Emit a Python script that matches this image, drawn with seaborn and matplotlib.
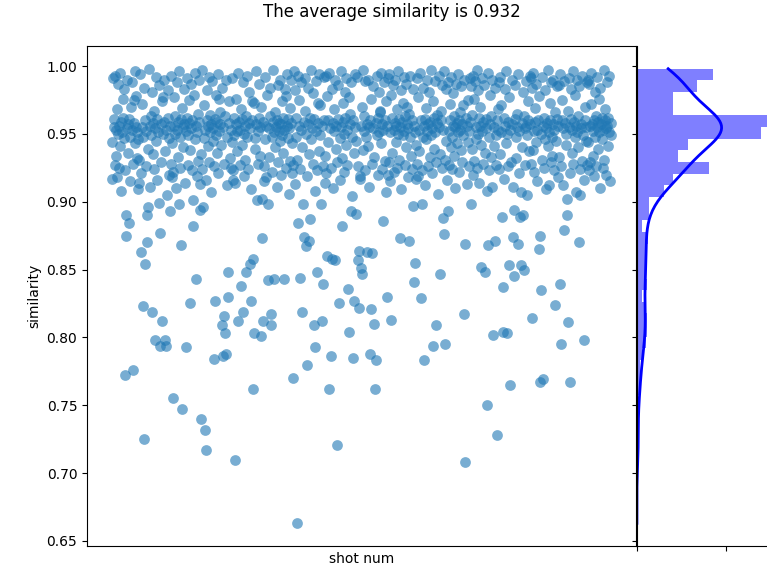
import numpy as np
import matplotlib
matplotlib.use("Agg")
import matplotlib.pyplot as plt
import seaborn as sns

# shots that drop below the main band: shot number and similarity (x1000)
low_shots = [
    24, 26, 27, 33, 39, 54, 59, 60, 62, 66,
    67, 69, 75, 82, 88, 90, 91, 94, 101, 102,
    109, 115, 127, 130, 133, 140, 147, 153, 154, 159,
    167, 169, 172, 175, 178, 192, 194, 208, 209, 212,
    214, 215, 219, 220, 232, 239, 244, 247, 254, 260,
    262, 266, 267, 268, 274, 281, 283, 284, 286, 294,
    295, 300, 301, 306, 325, 343, 349, 352, 355, 359,
    361, 362, 366, 369, 372, 375, 381, 383, 387, 395,
    396, 398, 407, 410, 413, 416, 421, 425, 429, 435,
    446, 448, 452, 455, 457, 462, 465, 466, 467, 470,
    473, 481, 487, 489, 492, 495, 497, 498, 513, 520,
    527, 544, 562, 569, 570, 573, 583, 586, 589, 606,
    612, 620, 626, 628, 629, 634, 665, 667, 668, 678,
    697, 705, 709, 710, 720, 723, 728, 737, 738, 739,
    747, 750, 753, 757, 759, 760, 767, 771, 772, 777,
    779, 794, 807, 808, 809, 811, 814, 837, 847, 849,
    855, 859, 860, 861, 866, 883, 891,
]
low_sim = [
    772, 890, 875, 884, 776, 863, 823, 725, 854, 870,
    890, 896, 819, 798, 899, 794, 877, 812, 798, 794,
    893, 755, 898, 868, 747, 793, 825, 882, 901, 843,
    894, 740, 896, 732, 717, 784, 827, 809, 786, 816,
    803, 788, 848, 830, 710, 812, 838, 819, 848, 854,
    827, 762, 858, 803, 901, 801, 902, 873, 812, 898,
    842, 817, 809, 843, 843, 770, 663, 884, 844, 819,
    898, 874, 867, 780, 871, 887, 809, 793, 848, 898,
    812, 839, 860, 762, 786, 858, 857, 721, 825, 882,
    836, 804, 893, 785, 827, 891, 857, 822, 864, 851,
    847, 863, 788, 821, 862, 810, 762, 783, 886, 830,
    813, 873, 871, 897, 841, 855, 829, 898, 783, 794,
    809, 847, 888, 876, 795, 893, 817, 708, 869, 898,
    852, 848, 750, 868, 802, 871, 728, 889, 804, 837,
    803, 853, 765, 874, 894, 845, 869, 889, 853, 890,
    850, 814, 865, 875, 767, 835, 769, 824, 839, 795,
    879, 902, 890, 811, 767, 870, 798,
]

# all other shots, in order, similarity (x1000)
band_sim = [
    917, 944, 991, 955, 961, 927, 993, 934, 953, 918, 968, 987, 950, 925, 956, 995, 941,
    959, 908, 951, 976, 962, 983, 947, 923, 954, 990, 957, 936, 961, 915, 948, 970, 988,
    953, 928, 975, 958, 996, 943, 955, 978, 932, 951, 909,
    946, 914, 931, 994, 921, 955, 972, 948, 984, 960, 926, 952, 939, 998, 956, 911, 963,
    949, 981, 935, 958, 967, 924, 954, 992, 945, 961, 916, 951, 986, 957, 929, 974, 950,
    977, 990, 959, 937, 953, 905, 962, 982, 947, 920, 956,
    993, 928, 918, 943, 922, 956, 977, 950, 963, 910, 988, 953, 933, 959, 996, 948, 925,
    961, 969, 955, 940, 983, 957, 914, 952, 991, 962, 927, 949, 975, 958, 938, 954, 987,
    923, 960, 979, 995, 946, 956, 919, 951, 965, 930, 959, 990,
    913, 935, 997, 924, 947, 971, 953, 916, 960, 982, 941, 956, 929, 992, 951, 964, 907,
    957, 989, 945, 954, 926, 961, 979, 949, 936, 959, 994, 921, 952, 976, 966, 957, 942,
    984, 955, 928, 963, 990, 948, 912, 958, 974, 932, 953, 925,
    991, 944, 923, 916, 949, 962, 914, 957, 976, 952, 937, 995, 959, 927, 953, 968, 961,
    942, 988, 950, 919, 956, 931, 963, 993, 948, 924, 958, 981, 954, 909, 974, 960, 973,
    947, 939, 957, 996, 952, 928, 962, 987, 955, 934, 970, 959,
    926, 915, 946, 992, 918, 956, 979, 933, 954, 963, 984, 948, 922, 959, 997, 951, 940,
    966, 955, 911, 960, 986, 929, 952, 958, 990, 945, 957, 920, 949, 974, 962, 936, 953,
    983, 925, 978, 956, 994, 947, 961, 906, 954, 969, 930, 958,
    990, 943, 921, 927, 996, 913, 982, 948, 962, 931, 993, 956, 975, 924, 953, 988, 940,
    959, 967, 991, 950, 919, 957, 984, 935, 962, 997, 946, 954, 928, 980, 961, 908, 989,
    952, 923, 973, 958, 994, 937, 949, 971, 956, 926, 992, 960,
    914, 934, 993, 921, 978, 960, 944, 995, 954, 925, 983, 958, 910, 952, 968, 990, 939,
    956, 929, 986, 961, 947, 916, 955, 996, 932, 959, 973, 950, 922, 981, 962, 942, 991,
    953, 927, 977, 957, 965, 988, 948, 904, 960, 936, 994, 955,
    945, 992, 926, 919, 917, 956, 970, 938, 997, 952, 963, 923, 989, 948, 957, 941, 990,
    955, 911, 960, 976, 928, 954, 985, 933, 958, 993, 949, 962, 920, 981, 951, 966, 967,
    943, 995, 957, 924, 953, 988, 930, 960, 907, 974, 956, 991,
    920, 929, 994, 915, 951, 979, 962, 936, 986, 953, 922, 958, 990, 944, 956, 968, 925,
    950, 996, 961, 931, 955, 982, 909, 959, 949, 973, 992, 952, 927, 963, 940, 987, 970,
    957, 918, 954, 965, 993, 948, 934, 960, 924, 983, 956, 951,
    942, 917, 928, 991, 919, 977, 953, 937, 995, 960, 923, 948, 984, 956, 912, 961, 969,
    946, 990, 952, 926, 957, 981, 933, 959, 997, 949, 921, 954, 974, 962, 939, 989, 951,
    929, 958, 964, 906, 993, 955, 935, 967, 960, 925, 986, 953,
    996, 931, 983, 945, 916, 988, 927, 952, 972, 960, 940, 992, 948, 924, 956, 980, 963,
    934, 955, 910, 987, 958, 943, 951, 994, 922, 960, 966, 953, 938, 985, 957, 929, 949,
    971, 990, 962, 913, 956, 975, 944, 952, 926, 991, 959,
    985, 964, 939, 993, 920, 976, 930, 989, 955, 946, 997, 925, 950, 982, 962, 914, 956,
    970, 942, 991, 952, 928, 959, 986, 936, 954, 961, 908, 995, 948, 923, 957, 979, 963,
    933, 911, 990, 955, 941, 984, 949, 927, 960, 968, 953,
    988, 924, 992, 935, 951, 971, 962, 917, 983, 956, 943, 996, 950, 926, 959, 977, 953,
    929, 990, 957, 911, 961, 986, 948, 932, 955, 965, 994, 952, 921, 907, 958, 940, 981,
    963, 927, 954, 989, 956, 905, 949, 974, 960, 937, 993, 957,
    991, 928, 984, 938, 995, 952, 922, 959, 969, 944, 987, 953, 915, 960, 978, 950, 931,
    992, 956, 925, 962, 982, 946, 954, 909, 958, 997, 941, 951, 912, 973, 960, 929, 988,
    948, 934, 957, 990, 923, 953, 966, 945, 985, 961, 918, 956,
    986, 933, 994, 926, 960, 975, 954, 912, 989, 958, 942, 950, 967, 991, 955, 921, 961,
    983, 936, 953, 928, 996, 959, 948, 979, 956, 907, 990, 951, 940, 963, 985, 924, 905,
    957, 954, 930, 993, 949, 916, 960, 970, 955, 945, 988, 927,
    990, 944, 923, 987, 929, 956, 972, 995, 957, 934, 952, 919, 960, 981, 948, 963, 926,
    955, 992, 939, 959, 976, 951, 910, 984, 957, 946, 962, 925, 953, 997, 931, 960, 968,
    954, 920, 956, 988, 941, 962, 993, 951, 915, 958, 949,
]

n_shots = len(low_shots) + len(band_sim)
similarity = np.empty(n_shots)
is_low = np.zeros(n_shots, dtype=bool)
is_low[low_shots] = True
similarity[low_shots] = np.array(low_sim) / 1000
similarity[~is_low] = np.array(band_sim) / 1000
shot_num = np.arange(n_shots)

fig = plt.figure(figsize=(7.67, 5.73), dpi=100)
ax = fig.add_axes([87 / 767, 27 / 573, 549 / 767, 500 / 573])
ax_hist = fig.add_axes([636.7 / 767, 27 / 573, 131 / 767, 500 / 573], sharey=ax)

sns.scatterplot(x=shot_num, y=similarity, ax=ax, s=60, alpha=0.6,
                linewidth=0, color="#1f77b4")
ax.set_xticks([])
ax.set_xlabel("shot num")
ax.set_ylabel("similarity")

sns.histplot(y=similarity, ax=ax_hist, bins=39, kde=True, color="b",
             alpha=0.5, linewidth=0, line_kws={"linewidth": 2})
ax_hist.set_xlim(0, 146)
ax_hist.set_xticks([0, 100])
ax_hist.tick_params(labelleft=False, labelbottom=False)
ax_hist.set_xlabel("")
ax_hist.set_ylabel("")
ax_hist.spines["top"].set_visible(False)
ax_hist.spines["right"].set_visible(False)

fig.text(392 / 767, 1 - 12 / 573, "The average similarity is 0.932",
         ha="center", va="center", fontsize=12)

fig.savefig("out.png", dpi=100)
plt.close(fig)
